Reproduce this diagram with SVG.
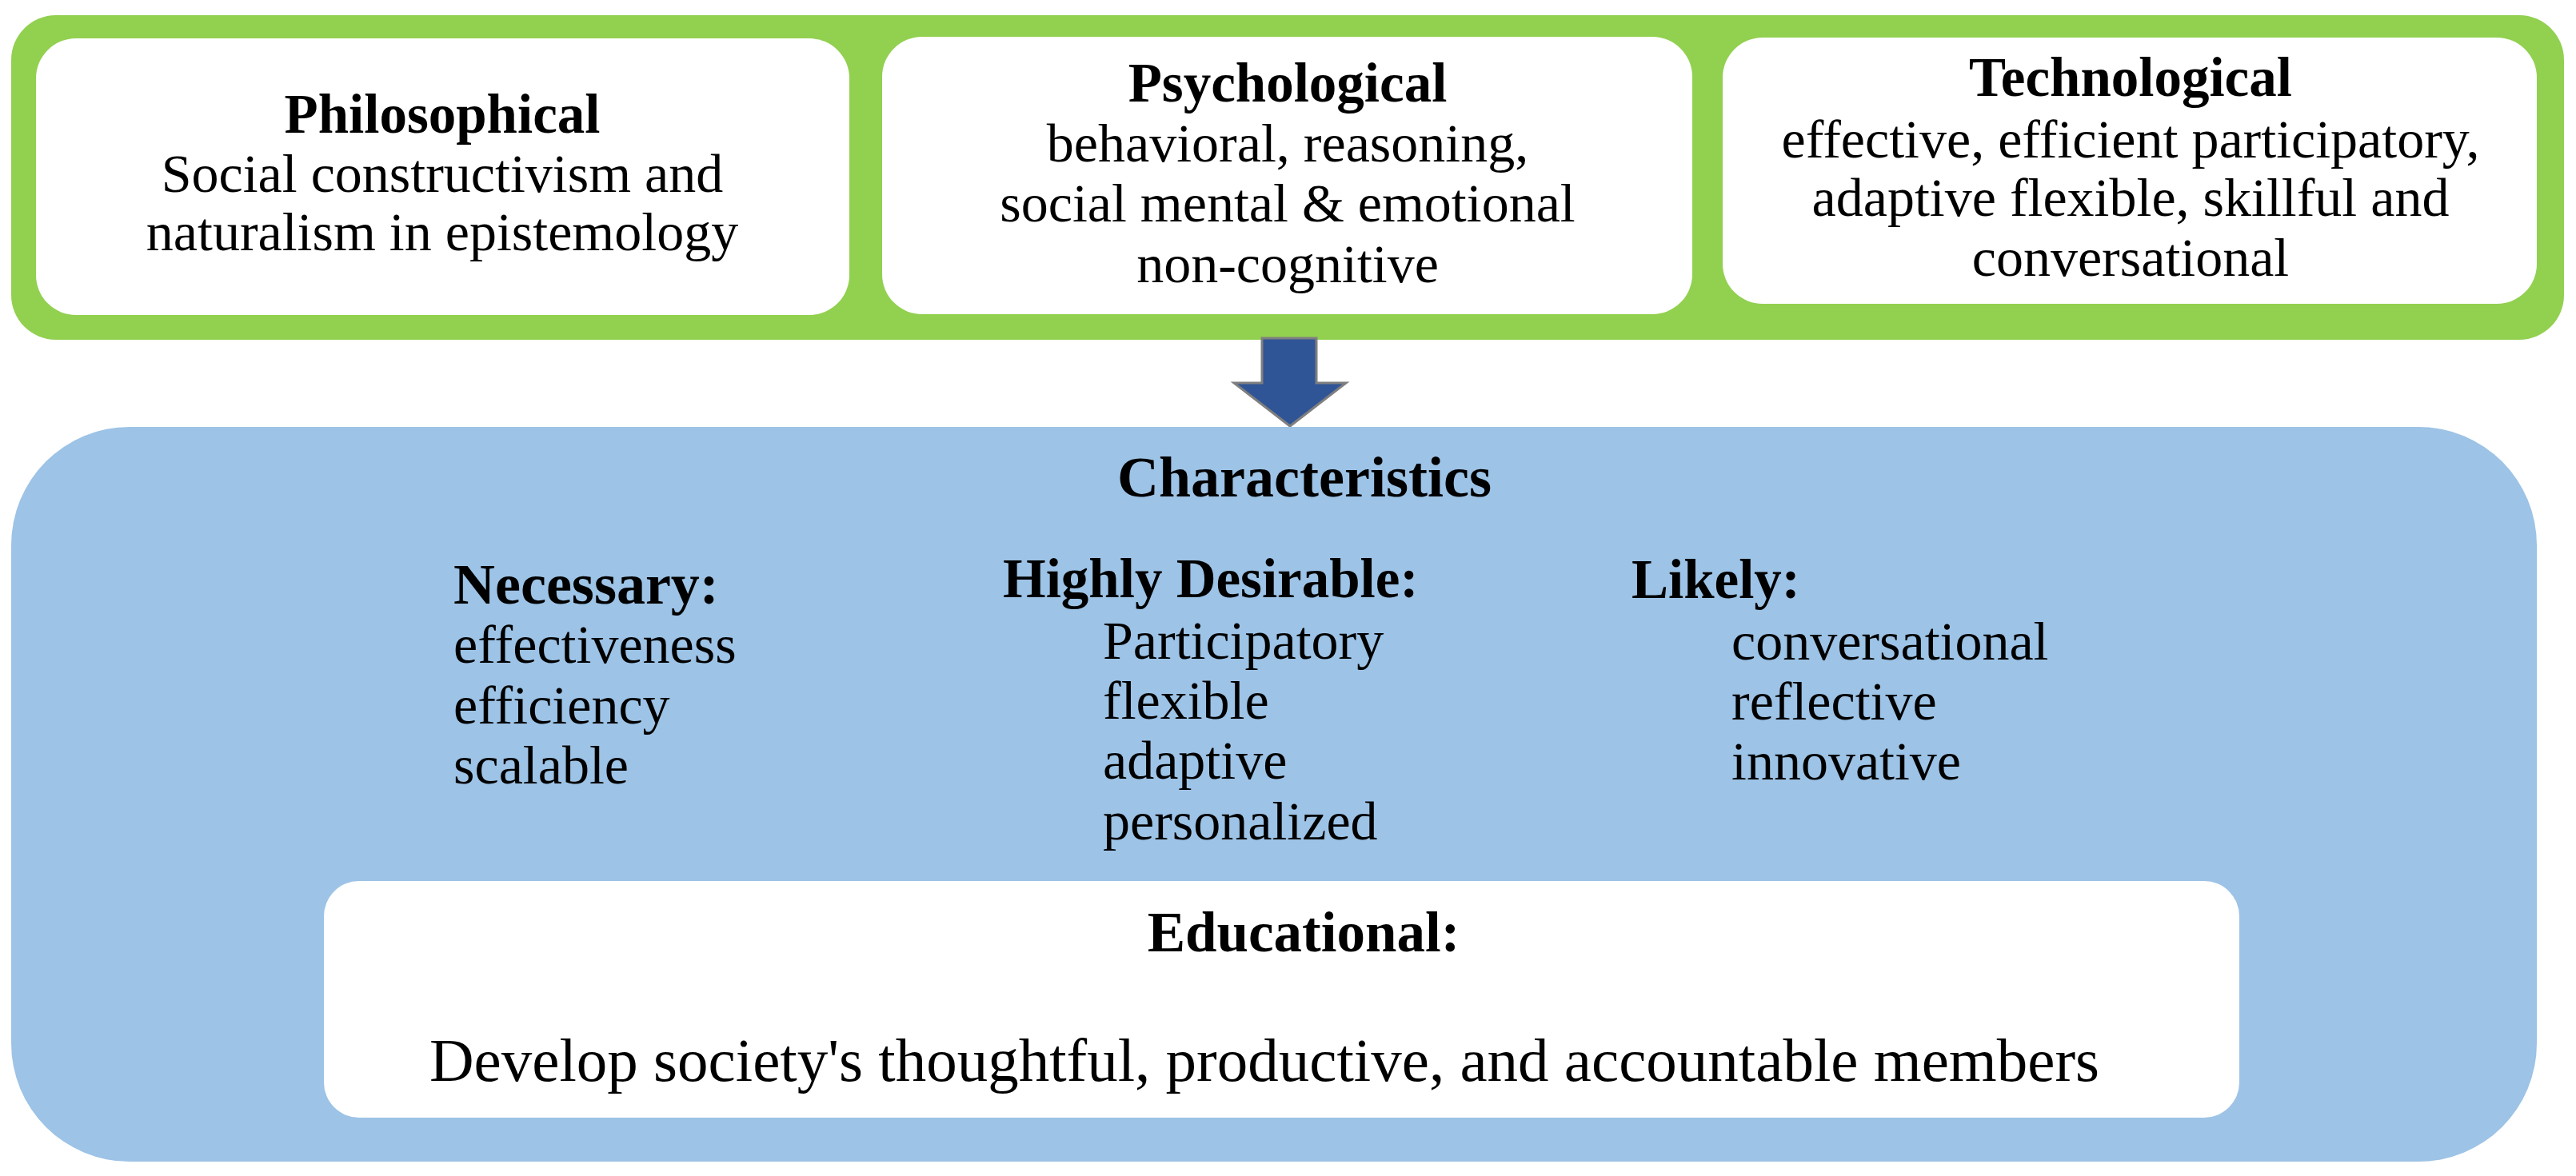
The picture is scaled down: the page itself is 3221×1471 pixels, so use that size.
<svg xmlns="http://www.w3.org/2000/svg" width="3221" height="1471" viewBox="0 0 3221 1471">
<style>
text{font-family:"Liberation Serif","Times New Roman",serif;fill:#000;}
.h{font-weight:bold;font-size:69px;}
.b{font-size:68px;}
.c{text-anchor:middle;}
.card{fill:#fff;}
</style>
<rect x="0" y="0" width="3221" height="1471" fill="#fff"/>
<g id="frame-top">
<rect x="14" y="19" width="3192" height="406" rx="56" fill="#92D050"/>
</g>
<g id="philosophical">
<rect class="card" x="45" y="48" width="1017" height="346" rx="50"/>
<text class="h c" x="553" y="166">Philosophical</text>
<text class="b c" x="553" y="240">Social constructivism and</text>
<text class="b c" x="553" y="313">naturalism in epistemology</text>
</g>
<g id="psychological">
<rect class="card" x="1103" y="46" width="1013" height="347" rx="50"/>
<text class="h c" x="1610" y="127">Psychological</text>
<text class="b c" x="1610" y="202">behavioral, reasoning,</text>
<text class="b c" x="1610" y="277">social mental &amp; emotional</text>
<text class="b c" x="1610" y="353">non-cognitive</text>
</g>
<g id="technological">
<rect class="card" x="2154" y="47" width="1018" height="333" rx="50"/>
<text class="h c" x="2664" y="120">Technological</text>
<text class="b c" x="2664" y="197">effective, efficient participatory,</text>
<text class="b c" x="2664" y="270">adaptive flexible, skillful and</text>
<text class="b c" x="2664" y="345">conversational</text>
</g>
<g id="connectors">
<polygon points="1578,423 1646,423 1646,479 1683,479 1613,533 1543,479 1578,479" fill="#2F5597" stroke="#7F7F7F" stroke-width="3" stroke-linejoin="miter"/>
</g>
<g id="characteristics">
<rect x="14" y="534" width="3158" height="919" rx="148" fill="#9DC3E6"/>
<text class="h c" x="1631" y="621" style="font-size:72px">Characteristics</text>
<g id="necessary">
<text class="h" x="567" y="755" style="font-size:72px">Necessary:</text>
<text class="b" x="567" y="829">effectiveness</text>
<text class="b" x="567" y="905">efficiency</text>
<text class="b" x="567" y="980">scalable</text>
</g>
<g id="highly-desirable">
<text class="h" x="1254" y="747">Highly Desirable:</text>
<text class="b" x="1379" y="824">Participatory</text>
<text class="b" x="1379" y="899">flexible</text>
<text class="b" x="1379" y="974">adaptive</text>
<text class="b" x="1379" y="1050">personalized</text>
</g>
<g id="likely">
<text class="h" x="2040" y="748">Likely:</text>
<text class="b" x="2165" y="825">conversational</text>
<text class="b" x="2165" y="900">reflective</text>
<text class="b" x="2165" y="975">innovative</text>
</g>
</g>
<g id="educational">
<rect class="card" x="405" y="1102" width="2395" height="296" rx="44"/>
<text class="h c" x="1630" y="1190" style="font-size:71px">Educational:</text>
<text class="c" x="1581" y="1352" style="font-size:77px">Develop society's thoughtful, productive, and accountable members</text>
</g>
</svg>
